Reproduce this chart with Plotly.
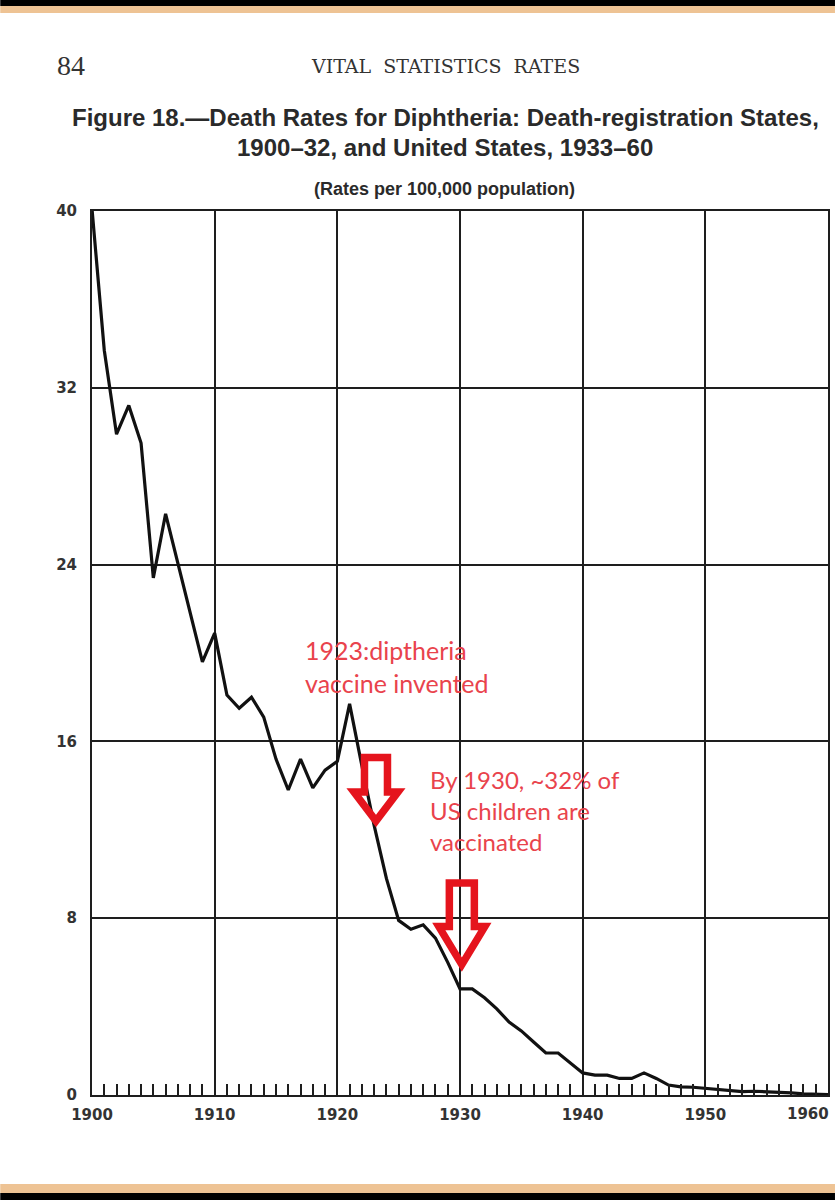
import plotly.graph_objects as go

# ---------------- data ----------------
years = list(range(1900, 1961))
rates = [40.1, 33.7, 29.9, 31.2, 29.5, 23.4, 26.3, 24.1, 21.8, 19.6,
         20.9, 18.1, 17.5, 18.0, 17.1, 15.2, 13.8, 15.2, 13.9, 14.7,
         15.1, 17.7, 14.9, 12.2, 9.8, 7.9, 7.5, 7.7, 7.1, 6.0,
         4.8, 4.8, 4.4, 3.9, 3.3, 2.9, 2.4, 1.9, 1.9, 1.45,
         1.0, 0.9, 0.9, 0.75, 0.75, 1.0, 0.75, 0.45, 0.37, 0.35,
         0.3, 0.25, 0.17, 0.15, 0.17, 0.15, 0.1, 0.1, 0.05, 0.05, 0.02]
x_ticks = [1900, 1910, 1920, 1930, 1940, 1950, 1960]
y_ticks = [0, 8, 16, 24, 32, 40]

# ---------------- geometry ----------------
FW, FH = 837, 1200
L, R, T, B = 92, 830, 211, 1095
W, H = R - L, B - T


def px_x(px):
    return (px - L) / W


def px_y(py):
    return (B - py) / H


INK = "#1e1e1e"
RED_TXT = "#e9434c"
RED_ARW = "#e5141d"

fig = go.Figure()
fig.add_trace(go.Scatter(x=years, y=rates, mode="lines",
                         line=dict(color="#111111", width=3.2),
                         hoverinfo="skip", showlegend=False))

tick_font = dict(family="DejaVu Sans", size=15, color="#333333")
inner_x = x_ticks[:-1]
fig.update_layout(
    width=FW, height=FH,
    margin=dict(l=L, r=FW - R, t=T, b=FH - B, pad=0),
    paper_bgcolor="white", plot_bgcolor="white",
    showlegend=False,
    xaxis=dict(range=[x_ticks[0], x_ticks[-1]], tickvals=inner_x,
               ticktext=[f"<b>{v}</b>" for v in inner_x],
               showgrid=True, gridcolor=INK, gridwidth=2,
               showline=True, linecolor=INK, linewidth=2, mirror=True,
               ticks="inside", ticklen=11, tickwidth=2, tickcolor=INK,
               minor=dict(dtick=1, tick0=1900, ticks="inside", ticklen=11,
                          tickwidth=2, tickcolor=INK, showgrid=False),
               tickfont=tick_font, ticklabelstandoff=5,
               zeroline=False, fixedrange=True),
    yaxis=dict(range=[y_ticks[0], y_ticks[-1]], tickvals=y_ticks,
               ticktext=[f"<b>{v}</b>" for v in y_ticks],
               showgrid=True, gridcolor=INK, gridwidth=2,
               showline=True, linecolor=INK, linewidth=2, mirror=True,
               ticks="", ticklabelstandoff=10,
               tickfont=tick_font,
               zeroline=False, fixedrange=True),
)

shapes = []
# top and bottom page bands
shapes.append(dict(type="rect", xref="paper", yref="paper",
                   x0=px_x(0), x1=px_x(FW), y0=px_y(0), y1=px_y(6),
                   fillcolor="black", line=dict(width=0), layer="above"))
shapes.append(dict(type="rect", xref="paper", yref="paper",
                   x0=px_x(0), x1=px_x(FW), y0=px_y(6), y1=px_y(13),
                   fillcolor="#eec394", line=dict(width=0), layer="above"))
shapes.append(dict(type="rect", xref="paper", yref="paper",
                   x0=px_x(0), x1=px_x(FW), y0=px_y(1184), y1=px_y(1193),
                   fillcolor="#eec394", line=dict(width=0), layer="above"))
shapes.append(dict(type="rect", xref="paper", yref="paper",
                   x0=px_x(0), x1=px_x(FW), y0=px_y(1193), y1=px_y(FH),
                   fillcolor="black", line=dict(width=0), layer="above"))


def block_arrow(tip_year, tip_rate, shaft_hw, head_hw, head_h, total_h):
    # hollow downward block arrow, drawn in pixels around its tip (y up)
    p = (f"M 0 0 L {-head_hw} {head_h} L {-shaft_hw} {head_h} "
         f"L {-shaft_hw} {total_h} L {shaft_hw} {total_h} "
         f"L {shaft_hw} {head_h} L {head_hw} {head_h} Z")
    return dict(type="path", xref="x", yref="y",
                xsizemode="pixel", ysizemode="pixel",
                xanchor=tip_year, yanchor=tip_rate, path=p,
                line=dict(color=RED_ARW, width=7.5), fillcolor="rgba(0,0,0,0)",
                layer="above")


shapes.append(block_arrow(1923.15, 12.4, 11.5, 22, 29, 63.5))
shapes.append(block_arrow(1930.15, 5.9, 12.5, 23, 38, 81.5))
fig.update_layout(shapes=shapes)

ann = []
cx = px_x(446)
# last x-axis label sits flush with the right edge of the frame
ann.append(dict(text=f"<b>{x_ticks[-1]}</b>", xref="x", yref="paper",
                x=x_ticks[-1], y=0, xanchor="right", yanchor="top",
                yshift=-8, xshift=3, showarrow=False, font=tick_font))
ann.append(dict(text="84", xref="paper", yref="paper", x=px_x(55), y=px_y(66),
                xanchor="left", yanchor="middle", showarrow=False,
                font=dict(family="Liberation Serif", size=28, color="#333")))
ann.append(dict(text="VITAL  STATISTICS  RATES", xref="paper", yref="paper",
                x=cx, y=px_y(66), xanchor="center", yanchor="middle",
                showarrow=False,
                font=dict(family="DejaVu Serif", size=19, color="#333")))
ann.append(dict(text="<b>Figure 18.—Death Rates for Diphtheria: Death-registration States,</b>",
                xref="paper", yref="paper", x=cx, y=px_y(118),
                xanchor="center", yanchor="middle", showarrow=False,
                font=dict(family="Liberation Sans", size=24, color="#2a2a2a")))
ann.append(dict(text="<b>1900–32, and United States, 1933–60</b>",
                xref="paper", yref="paper", x=cx, y=px_y(147),
                xanchor="center", yanchor="middle", showarrow=False,
                font=dict(family="Liberation Sans", size=24, color="#2a2a2a")))
ann.append(dict(text="<b>(Rates per 100,000 population)</b>",
                xref="paper", yref="paper", x=px_x(445), y=px_y(189),
                xanchor="center", yanchor="middle", showarrow=False,
                font=dict(family="Liberation Sans", size=18, color="#2a2a2a")))
ann.append(dict(text="1923:diptheria<br>vaccine invented",
                xref="paper", yref="paper", x=px_x(304), y=px_y(666),
                xanchor="left", yanchor="middle", align="left", showarrow=False,
                font=dict(family="Lato", size=25, color=RED_TXT)))
ann.append(dict(text="By 1930, ~32% of<br>US children are<br>vaccinated",
                xref="paper", yref="paper", x=px_x(429), y=px_y(810),
                xanchor="left", yanchor="middle", align="left", showarrow=False,
                font=dict(family="Lato", size=24, color=RED_TXT)))
fig.update_layout(annotations=ann)

fig.write_html("out.html",
               config={"displayModeBar": False},
               post_script="document.body.style.margin='0';")
